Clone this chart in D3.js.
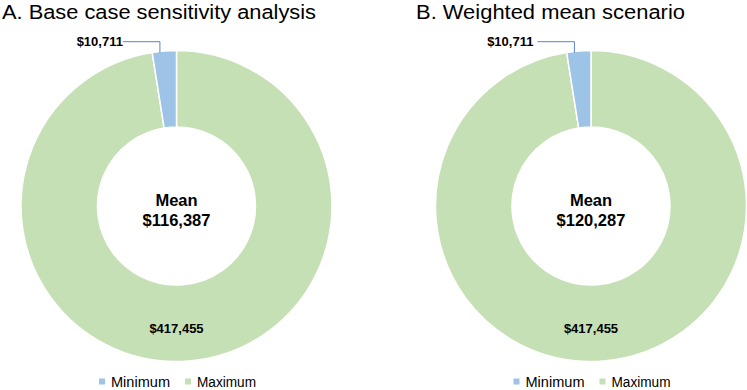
<!DOCTYPE html>
<head>
  <meta charset="utf-8">
  <script src="https://d3js.org/d3.v7.min.js"></script>
  <style>
    body { margin:0; background:white; }
    svg { display:block; font-family: "Liberation Sans", Arial, sans-serif; }
  </style>
</head>
<body>
<script>
  // data
  var categories = ["Minimum", "Maximum"];
  var panelTitles = ["A. Base case sensitivity analysis", "B. Weighted mean scenario"];
  var minValues = [10711, 10711];
  var maxValues = [417455, 417455];
  var meanValues = [116387, 120287];
  var colors = { "Minimum": "#9dc3e6", "Maximum": "#c5e0b4" };

  var width = 747, height = 390;
  var svg = d3.select("body").append("svg")
    .attr("width", width)
    .attr("height", height);

  var centers = [176.5, 591];
  var cy = 206, outerR = 155.5, innerR = 79;
  var titleX = [2, 416];
  var titleW = [314, 269];
  var fmt = function(v) { return "$" + d3.format(",")(v); };

  var pie = d3.pie().sort(null).value(function(d) { return d.value; });
  var arc = d3.arc().innerRadius(innerR).outerRadius(outerR);

  panelTitles.forEach(function(title, i) {
    var g = svg.append("g");

    g.append("text")
      .attr("x", titleX[i])
      .attr("y", 18.5)
      .attr("textLength", titleW[i])
      .attr("lengthAdjust", "spacingAndGlyphs")
      .style("font-size", "20px")
      .attr("fill", "#000")
      .text(title);

    // excel draws the big slice first from 12 o'clock, small one ends at top
    var rows = [
      { cat: "Maximum", value: maxValues[i] },
      { cat: "Minimum", value: minValues[i] }
    ];
    var slices = pie(rows);

    var chart = g.append("g").attr("transform", "translate(" + centers[i] + "," + cy + ")");

    chart.selectAll("path")
      .data(slices)
      .enter()
      .append("path")
      .attr("d", arc)
      .attr("fill", function(d) { return colors[d.data.cat]; })
      .attr("stroke", "white")
      .attr("stroke-width", 1.5);

    // big slice label
    var big = slices[0];
    g.append("text")
      .attr("x", centers[i])
      .attr("y", cy + outerR - 28.5)
      .attr("text-anchor", "middle")
      .style("font-size", "13px")
      .style("font-weight", "bold")
      .text(fmt(big.data.value));

    // small slice label with leader
    var small = slices[1];
    var a = small.startAngle + (small.endAngle - small.startAngle) * 0.32;
    var px = centers[i] + outerR * Math.sin(a);
    var py = cy - outerR * Math.cos(a) + 1.5;
    var ly = 41.7;
    g.append("polyline")
      .attr("points", [[px - 37, ly], [px, ly], [px, py]].map(function(p) { return p.join(","); }).join(" "))
      .attr("fill", "none")
      .attr("stroke", "#5b84d1")
      .attr("stroke-width", 1);
    g.append("text")
      .attr("x", px - 38 + (i == 0 ? 1 : -3))
      .attr("y", ly + 4.6)
      .attr("text-anchor", "end")
      .style("font-size", "13px")
      .style("font-weight", "bold")
      .text(fmt(small.data.value));

    // centre text
    var ct = g.append("text")
      .attr("text-anchor", "middle")
      .style("font-size", "16.5px")
      .style("font-weight", "bold");
    ct.append("tspan").attr("x", centers[i]).attr("y", cy).text("Mean");
    ct.append("tspan").attr("x", centers[i]).attr("y", cy + 20).text(fmt(meanValues[i]));

    // legend
    var leg = g.append("g");
    var xOff = 0;
    categories.forEach(function(c) {
      var it = leg.append("g").attr("transform", "translate(" + xOff + ",0)");
      it.append("rect")
        .attr("x", 0).attr("y", -6)
        .attr("width", 6).attr("height", 6)
        .attr("fill", colors[c]);
      it.append("text")
        .attr("x", 12)
        .attr("y", 2.5)
        .attr("textLength", 59)
        .attr("lengthAdjust", "spacingAndGlyphs")
        .style("font-size", "14px")
        .attr("fill", "#000")
        .text(c);
      xOff += 12 + 59 + 15;
    });
    leg.attr("transform", "translate(" + (centers[i] + 1 - (xOff - 15) / 2) + ",384.5)");
  });
</script>
</body>
